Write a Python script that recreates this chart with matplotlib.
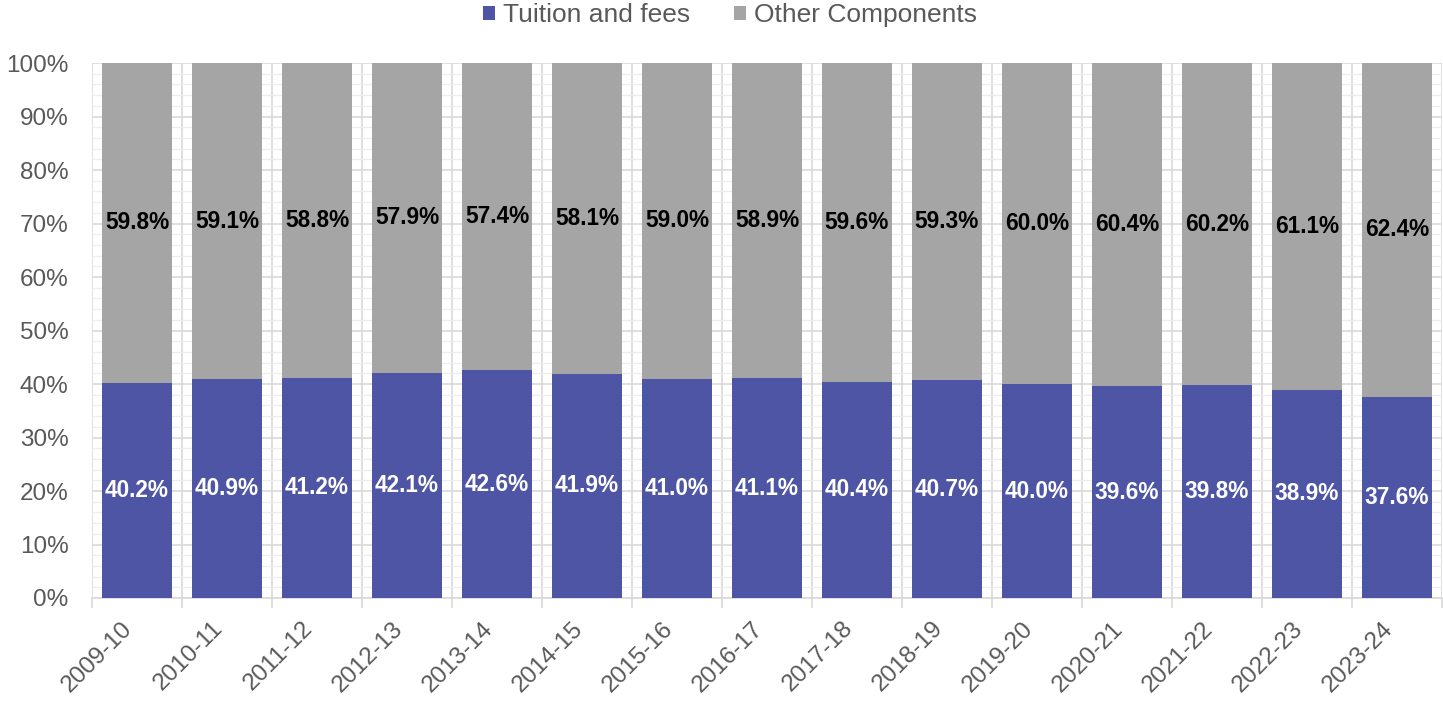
import matplotlib.pyplot as plt
from matplotlib.ticker import MultipleLocator, FuncFormatter
import numpy as np

plt.rcParams['font.family'] = ['Liberation Sans', 'DejaVu Sans']

years = ['2009-10', '2010-11', '2011-12', '2012-13', '2013-14', '2014-15', '2015-16',
         '2016-17', '2017-18', '2018-19', '2019-20', '2020-21', '2021-22', '2022-23', '2023-24']
tuition = [40.2, 40.9, 41.2, 42.1, 42.6, 41.9, 41.0, 41.1, 40.4, 40.7, 40.0, 39.6, 39.8, 38.9, 37.6]
other = [59.8, 59.1, 58.8, 57.9, 57.4, 58.1, 59.0, 58.9, 59.6, 59.3, 60.0, 60.4, 60.2, 61.1, 62.4]

blue = '#4F55A5'
grey = '#A5A5A5'
txt = '#595959'

fig = plt.figure(figsize=(14.43, 7.04), dpi=100)
ax = fig.add_axes([92/1443, 1 - 598/704, 1350/1443, 535/704])

x = np.arange(len(years))
ax.bar(x, tuition, width=0.78, color=blue, label='Tuition and fees', zorder=3)
ax.bar(x, other, width=0.78, bottom=tuition, color=grey, label='Other Components', zorder=3)

for i in range(len(years)):
    ax.text(x[i], tuition[i] / 2, f'{tuition[i]:.1f}%', ha='center', va='center',
            color='white', fontsize=16.3, fontweight='bold', zorder=4)
    ax.text(x[i], tuition[i] + other[i] / 2, f'{other[i]:.1f}%', ha='center', va='center',
            color='black', fontsize=16.3, fontweight='bold', zorder=4)

ax.set_xlim(-0.5, len(years) - 0.5)
ax.set_ylim(0, 100)
ax.yaxis.set_major_locator(MultipleLocator(10))
ax.yaxis.set_minor_locator(MultipleLocator(2))
ax.yaxis.set_major_formatter(FuncFormatter(lambda v, p: f'{v:.0f}%'))

ax.set_xticks(x)
ax.set_xticklabels(years, rotation=45, ha='right')
ax.set_xticks(np.arange(len(years) + 1) - 0.5, minor=True)

# gridlines: category boundaries and fine horizontal lines
ax.grid(which='major', axis='y', color='#D9D9D9', lw=1.2, zorder=0)
ax.grid(which='minor', axis='y', color='#EDEDED', lw=0.9, zorder=0)
ax.grid(which='minor', axis='x', color='#D9D9D9', lw=1.2, zorder=0)
for i in range(len(years)):
    for f in (-0.3, -0.1, 0.1, 0.3):
        ax.axvline(x[i] + f, color='#EDEDED', lw=0.9, zorder=0)

ax.tick_params(axis='y', which='both', length=0, labelsize=17.5, labelcolor=txt, pad=17)
ax.tick_params(axis='x', which='major', length=0, labelsize=17.5, labelcolor=txt, pad=14)
ax.tick_params(axis='x', which='minor', length=7, color='#D9D9D9', width=1.2)

for s in ['top', 'right', 'left']:
    ax.spines[s].set_visible(False)
ax.spines['bottom'].set_color('#D9D9D9')
ax.spines['bottom'].set_linewidth(1.2)

fig.legend(*ax.get_legend_handles_labels(), loc='center', bbox_to_anchor=(730/1443, 1 - 15/704),
           ncol=2, frameon=False, fontsize=19, labelcolor=txt, handlelength=0.45,
           handleheight=0.45, handletextpad=0.3, columnspacing=1.7, borderpad=0)

fig.savefig('out.png', dpi=100)
